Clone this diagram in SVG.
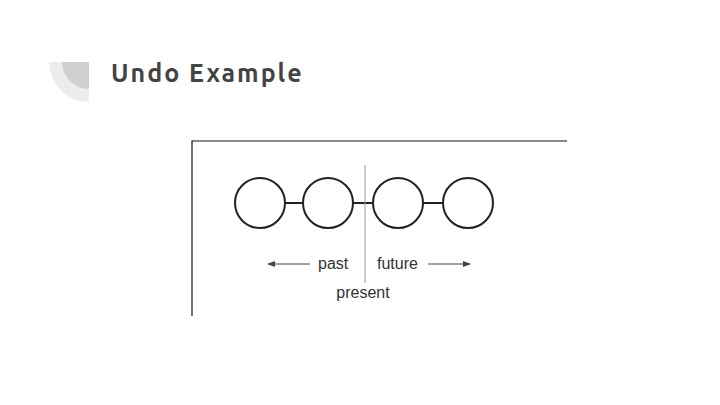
<svg xmlns="http://www.w3.org/2000/svg" width="720" height="405" viewBox="0 0 720 405">
<style>
.n{fill:#fff;stroke:#222;stroke-width:2}
.l{stroke:#222;stroke-width:2}
.t{font-family:"Liberation Sans",Arial,sans-serif;font-size:16px;fill:#333}
</style>
<defs><marker id="a" markerWidth="8" markerHeight="6" refX="7" refY="3" orient="auto"><path d="M0,0L8,3L0,6z" fill="#444"/></marker></defs>
<rect width="720" height="405" fill="#fff"/>
<path d="M89,62V102A40,40 0 0 1 49,62Z" fill="#ececec"/>
<path d="M89,62V89A27,27 0 0 1 62,62Z" fill="#d0d0d0"/>
<text x="111" y="82" font-family="Ubuntu,'Open Sans',sans-serif" font-weight="bold" font-size="25" letter-spacing="2" fill="#434343">Undo Example</text>
<path d="M192,316V141H567" fill="none" stroke="#111" stroke-width="1.2"/>
<g id="connectors">
<line class="l" x1="285" y1="203" x2="303" y2="203"/>
<line class="l" x1="353" y1="203" x2="373" y2="203"/>
<line class="l" x1="423" y1="203" x2="443" y2="203"/>
<line x1="365" y1="165" x2="365" y2="283" stroke="#999" stroke-width="1"/>
<line x1="310" y1="264" x2="268" y2="264" stroke="#444" marker-end="url(#a)"/>
<line x1="428" y1="264" x2="470" y2="264" stroke="#444" marker-end="url(#a)"/>
</g>
<g id="n1"><circle class="n" cx="260" cy="203" r="25"/></g>
<g id="n2"><circle class="n" cx="328" cy="203" r="25"/></g>
<g id="n3"><circle class="n" cx="398" cy="203" r="25"/></g>
<g id="n4"><circle class="n" cx="468" cy="203" r="25"/></g>
<text class="t" x="318" y="269">past</text>
<text class="t" x="377" y="269">future</text>
<text class="t" x="363" y="298" text-anchor="middle">present</text>
</svg>
